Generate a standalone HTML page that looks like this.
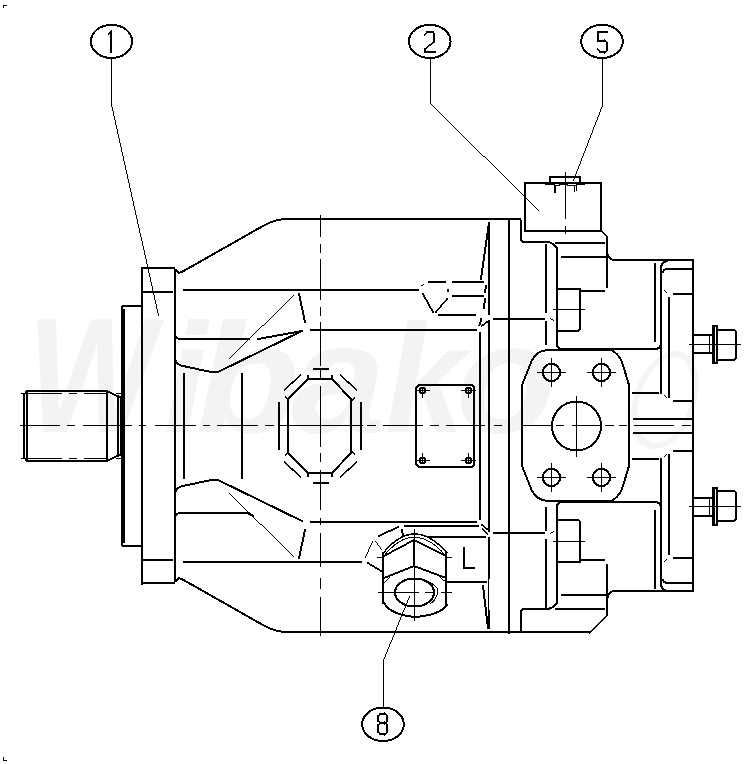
<!DOCTYPE html>
<html><head><meta charset="utf-8"><style>
html,body{margin:0;padding:0;background:#fff;width:745px;height:764px;overflow:hidden}
svg{display:block}
</style></head><body>
<svg width="745" height="764" viewBox="0 0 745 764">
<rect width="745" height="764" fill="#fff"/>
<g font-family="&quot;Liberation Sans&quot;, sans-serif" font-weight="bold" font-style="italic" font-size="155" fill="#f3f3f3"><text transform="translate(27.4 432) scale(0.87 1.06)">W</text><text transform="translate(164 432) scale(1.0 1)">i</text><text transform="translate(195.7 432) scale(1.1 1)">b</text><text transform="translate(291 432) scale(1.1 1)">a</text><text transform="translate(385 432) scale(0.93 1)">k</text><text transform="translate(455.7 432) scale(1.06 1)">o</text></g>
<ellipse cx="0" cy="0" rx="29" ry="46" transform="translate(665 400) skewX(-12)" fill="none" stroke="#f4f4f4" stroke-width="6"/>
<g fill="none" stroke="#000" stroke-linecap="square" shape-rendering="crispEdges">
<g id="sym">
<polyline points="27,391 107,391" stroke-width="2"/>
<polygon points="106,389.5 118,395.5 118,397.5 106,391.5" fill="#000" stroke="none"/>
<polyline points="107,391 107,427" stroke-width="2"/>
<polyline points="118,396 118,427" stroke-width="2"/>
<polyline points="118,397 121,397" stroke-width="2"/>
<polyline points="116.5,393.5 120.5,393.5" stroke-width="1"/>
<polyline points="120.5,396.5 120.5,426.5" stroke-width="1"/>
<polygon points="25.667,391 22.333,396 24.333,396 27.667,391" fill="#000" stroke="none"/>
<polyline points="24,395 24,427" stroke-width="2"/>
<polyline points="27,391 27,427" stroke-width="2"/>
<polyline points="21.5,393.5 61.5,393.5" stroke-width="1"/>
<polyline points="69.5,393.5 76.5,393.5" stroke-width="1"/>
<polyline points="84.5,393.5 107.5,393.5" stroke-width="1"/>
<polyline points="122,307 122,427" stroke-width="2"/>
<polyline points="124,310 124,427" stroke-width="2"/>
<polyline points="123,306 142,306" stroke-width="2"/>
<polyline points="142,268 142,427" stroke-width="2"/>
<polyline points="144,292 172,292" stroke-width="2"/>
<path d="M 175 335 Q 176 339 181 339 L 249 339" stroke-width="2"/>
<path d="M 175 358 Q 176 365 183 366 L 211 372 L 218 372 L 302 331" stroke-width="2"/>
<polygon points="229,358.492 294,294.508 294,295.508 229,359.492" fill="#000" stroke="none"/>
<polygon points="297.786,293 304.214,323 306.214,323 299.786,293" fill="#000" stroke="none"/>
<polyline points="311,330 476,330" stroke-width="2"/>
<polyline points="184,374 184,427" stroke-width="2"/>
<polyline points="242,374 242,427" stroke-width="2"/>
<polyline points="509,219 509,427" stroke-width="2"/>
<polyline points="489,321 489,427" stroke-width="2"/>
<polyline points="480,333 480,427" stroke-width="2"/>
<polyline points="439,315 475,315" stroke-width="2"/>
<polyline points="494,319 544,319" stroke-width="2"/>
<polygon points="550,317.667 554,320.333 554,321.333 550,318.667" fill="#000" stroke="none"/>
<path d="M 419 385 L 472 385 L 474 387 L 474 427" stroke-width="2"/>
<path d="M 419 385 L 416 388 L 416 427" stroke-width="2"/>
<path d="M 308 379 L 332 379 L 351 399 L 351 427" stroke-width="2"/>
<path d="M 308 379 L 288 399 L 288 427" stroke-width="2"/>
<polyline points="279,403 279,427" stroke-width="2"/>
<polyline points="361,403 361,427" stroke-width="2"/>
<polygon points="283.5,389.5 292.5,380.5 292.5,382.5 283.5,391.5" fill="#000" stroke="none"/>
<polygon points="291.5,382.5 300.5,373.5 300.5,375.5 291.5,384.5" fill="#000" stroke="none"/>
<polygon points="339.5,373.5 348.5,382.5 348.5,384.5 339.5,375.5" fill="#000" stroke="none"/>
<polygon points="347.5,380.5 356.5,389.5 356.5,391.5 347.5,382.5" fill="#000" stroke="none"/>
<polyline points="314,369 328,369" stroke-width="2"/>
<polyline points="320.5,370.5 320.5,377.5" stroke-width="1"/>
<polyline points="308,376 308,378" stroke-width="2"/>
<polyline points="332,376 332,378" stroke-width="2"/>
<polygon points="285,396 289,400 289,402 285,398" fill="#000" stroke="none"/>
<polygon points="351,400 355,396 355,398 351,402" fill="#000" stroke="none"/>
<polyline points="546,245 546,312" stroke-width="2"/>
<polyline points="546,322 546,344" stroke-width="2"/>
<polyline points="556,243 604,243" stroke-width="2"/>
<polyline points="562,257 607,257" stroke-width="2"/>
<polyline points="607,251 607,287" stroke-width="2"/>
<polyline points="655,264 655,341" stroke-width="2"/>
<path d="M 661 393 L 661 269 Q 661 262 667 261" stroke-width="2"/>
<path d="M 663 272 Q 664 269 667 269 L 693 269" stroke-width="2"/>
<polyline points="674,294 693,294" stroke-width="2"/>
<polygon points="664,289.5 667,292.5 667,293.5 664,290.5" fill="#000" stroke="none"/>
<polyline points="669,298 669,397" stroke-width="2"/>
<polygon points="664,394.5 667,397.5 667,398.5 664,395.5" fill="#000" stroke="none"/>
<polyline points="674,401 693,401" stroke-width="2"/>
<polyline points="633,393 658,393" stroke-width="2"/>
<polyline points="634,419 693,419" stroke-width="2"/>
</g>
<use href="#sym" transform="matrix(1 0 0 -1 0 852)"/>
<g id="symB">
<polyline points="142,268 174,268" stroke-width="2"/>
<polygon points="172.5,267 174.5,271 176.5,271 174.5,267" fill="#000" stroke="none"/>
<polyline points="175,270 175,427" stroke-width="2"/>
<path d="M 176 270 L 179 273 L 182.7 271.5 L 263.8 225.5 Q 275.3 219 288 219 L 519 219 Q 521 219 521 223 L 521 240 Q 521 242 525 242 L 548 242 Q 553 243 557 248" stroke-width="2"/>
<path d="M 607 251 Q 608 260 615 260 L 693 260 L 693 427" stroke-width="2"/>
<path d="M 522 427 L 522 385 L 532 360 Q 537 351 547 350 L 611 350 Q 618 353 622 362 L 629 385 L 629 427" stroke-width="2"/>
<polyline points="694,335 712,335" stroke-width="2"/>
<polyline points="694,353 712,353" stroke-width="2"/>
<polyline points="709.5,336.5 709.5,352.5" stroke-width="1"/>
<polyline points="713,326 717,326 717,363 713,363 713,326" stroke-width="2"/>
<polyline points="714.5,326.5 714.5,362.5" stroke-width="1"/>
<path d="M 718 330 L 733 330 Q 736 330 736 333 L 736 357 Q 736 360 733 360 L 718 360" stroke-width="2"/>
<polyline points="689.5,344.5 740.5,344.5" stroke-width="1"/>
<path d="M 557 248 L 557 344 Q 557 349 563 349 L 654 349 Q 661 349 661 343" stroke-width="2"/>
<polyline points="581,291 604,291" stroke-width="2"/>
<path d="M 558 289 L 580 289 L 580 328 Q 580 331 577 331 L 558 331" stroke-width="2"/>
<polyline points="553.5,309.5 584.5,309.5" stroke-width="1"/>
</g>
<use href="#symB" transform="matrix(1 0 0 -1 0 851)"/>
<polyline points="525,183 601,183 601,231 525,231 525,183" stroke-width="2"/>
<polyline points="550,184 550,177 580,177 580,184" stroke-width="2"/>
<polyline points="545.5,184.5 554.5,184.5" stroke-width="1"/>
<polyline points="559.5,184.5 567.5,184.5" stroke-width="1"/>
<polyline points="576.5,184.5 584.5,184.5" stroke-width="1"/>
<polyline points="554.5,185.5 559.5,185.5" stroke-width="1"/>
<polyline points="555,186 555,192" stroke-width="2"/>
<polyline points="567.5,185.5 576.5,185.5" stroke-width="1"/>
<polyline points="576.5,185.5 576.5,190.5" stroke-width="1"/>
<polyline points="574.5,185.5 574.5,191.5" stroke-width="1"/>
<polyline points="565.5,172.5 565.5,218.5" stroke-width="1"/>
<polyline points="565.5,226.5 565.5,233.5" stroke-width="1"/>
<polygon points="600,229 608,237 608,239 600,231" fill="#000" stroke="none"/>
<polyline points="607,237 607,251" stroke-width="2"/>
<polygon points="480.808,317.5 478.192,326 480.192,326 482.808,317.5" fill="#000" stroke="none"/>
<polygon points="480.5,325.75 488.5,319.75 488.5,321.75 480.5,327.75" fill="#000" stroke="none"/>
<polyline points="184,290 418,290" stroke-width="2"/>
<polygon points="257,338.182 303,329.818 303,331.818 257,340.182" fill="#000" stroke="none"/>
<polyline points="429,282 445,282" stroke-width="2"/>
<polyline points="453,282 483,282" stroke-width="2"/>
<polygon points="421,285.25 424,283.75 424,284.75 421,286.25" fill="#000" stroke="none"/>
<polygon points="421.444,293 432.556,313 434.556,313 423.444,293" fill="#000" stroke="none"/>
<polygon points="446.846,298 434.154,313 436.154,313 448.846,298" fill="#000" stroke="none"/>
<polyline points="448,290 448,291" stroke-width="2"/>
<polyline points="453,296 483,296" stroke-width="2"/>
<polygon points="485.167,285 483.833,293 485.833,293 487.167,285" fill="#000" stroke="none"/>
<polygon points="484.111,298 482.889,309 484.889,309 486.111,298" fill="#000" stroke="none"/>
<polyline points="489,223 489,314" stroke-width="2"/>
<polygon points="488.143,222 479.857,280 481.857,280 490.143,222" fill="#000" stroke="none"/>
<polyline points="520,632 590,632" stroke-width="2"/>
<polygon points="589,632 608,613 608,615 589,634" fill="#000" stroke="none"/>
<polyline points="607,615 607,601" stroke-width="2"/>
<path d="M 245 513 Q 250 513 253 516" stroke-width="2"/>
<polyline points="405,526 478,526" stroke-width="2"/>
<polyline points="429,537 485,537" stroke-width="2"/>
<polygon points="481,523.2 488,528.8 488,530.8 481,525.2" fill="#000" stroke="none"/>
<polygon points="482,528 488,534 488,536 482,530" fill="#000" stroke="none"/>
<polyline points="489,538 489,578" stroke-width="2"/>
<polyline points="488.5,578.5 488.5,610.5" stroke-width="1"/>
<polyline points="489,611 489,628" stroke-width="2"/>
<polygon points="481.881,585 487.119,629 489.119,629 483.881,585" fill="#000" stroke="none"/>
<polyline points="448,582 486,582" stroke-width="2"/>
<polyline points="184,562 361,562" stroke-width="2"/>
<polyline points="464,548 464,568 474,568" stroke-width="2"/>
<polyline points="20.5,425.5 59.5,425.5" stroke-width="1"/>
<polyline points="67.5,425.5 74.5,425.5" stroke-width="1"/>
<polyline points="83.5,425.5 131.5,425.5" stroke-width="1"/>
<polyline points="139.5,425.5 145.5,425.5" stroke-width="1"/>
<polyline points="155.5,425.5 195.5,425.5" stroke-width="1"/>
<polyline points="203.5,425.5 209.5,425.5" stroke-width="1"/>
<polyline points="217.5,425.5 257.5,425.5" stroke-width="1"/>
<polyline points="265.5,425.5 273.5,425.5" stroke-width="1"/>
<polyline points="278.5,425.5 362.5,425.5" stroke-width="1"/>
<polyline points="367.5,425.5 375.5,425.5" stroke-width="1"/>
<polyline points="383.5,425.5 422.5,425.5" stroke-width="1"/>
<polyline points="430.5,425.5 438.5,425.5" stroke-width="1"/>
<polyline points="446.5,425.5 484.5,425.5" stroke-width="1"/>
<polyline points="494.5,425.5 501.5,425.5" stroke-width="1"/>
<polyline points="521.5,425.5 550.5,425.5" stroke-width="1"/>
<polyline points="556.5,425.5 563.5,425.5" stroke-width="1"/>
<polyline points="572.5,425.5 599.5,425.5" stroke-width="1"/>
<polyline points="605.5,425.5 613.5,425.5" stroke-width="1"/>
<polyline points="619.5,425.5 626.5,425.5" stroke-width="1"/>
<polyline points="634.5,425.5 673.5,425.5" stroke-width="1"/>
<polyline points="682.5,425.5 690.5,425.5" stroke-width="1"/>
<polyline points="320.5,215.5 320.5,236.5" stroke-width="1"/>
<polyline points="320.5,244.5 320.5,252.5" stroke-width="1"/>
<polyline points="320.5,259.5 320.5,299.5" stroke-width="1"/>
<polyline points="320.5,307.5 320.5,315.5" stroke-width="1"/>
<polyline points="320.5,322.5 320.5,365.5" stroke-width="1"/>
<polyline points="320.5,386.5 320.5,446.5" stroke-width="1"/>
<polyline points="320.5,453.5 320.5,461.5" stroke-width="1"/>
<polyline points="320.5,470.5 320.5,481.5" stroke-width="1"/>
<polyline points="320.5,484.5 320.5,509.5" stroke-width="1"/>
<polyline points="320.5,518.5 320.5,524.5" stroke-width="1"/>
<polyline points="320.5,533.5 320.5,566.5" stroke-width="1"/>
<polyline points="320.5,578.5 320.5,588.5" stroke-width="1"/>
<polyline points="320.5,597.5 320.5,635.5" stroke-width="1"/>
<ellipse cx="551.5" cy="372.5" rx="8.6" ry="8.6" stroke-width="2"/>
<polyline points="537.5,372.5 565.5,372.5" stroke-width="1"/>
<polyline points="551.5,358.5 551.5,386.5" stroke-width="1"/>
<ellipse cx="601.5" cy="372.5" rx="8.6" ry="8.6" stroke-width="2"/>
<polyline points="587.5,372.5 615.5,372.5" stroke-width="1"/>
<polyline points="601.5,358.5 601.5,386.5" stroke-width="1"/>
<ellipse cx="551.5" cy="477.5" rx="8.6" ry="8.6" stroke-width="2"/>
<polyline points="537.5,477.5 565.5,477.5" stroke-width="1"/>
<polyline points="551.5,463.5 551.5,491.5" stroke-width="1"/>
<ellipse cx="601.5" cy="477.5" rx="8.6" ry="8.6" stroke-width="2"/>
<polyline points="587.5,477.5 615.5,477.5" stroke-width="1"/>
<polyline points="601.5,463.5 601.5,491.5" stroke-width="1"/>
<ellipse cx="576.5" cy="426" rx="24.5" ry="24.5" stroke-width="2"/>
<polyline points="576.5,396.5 576.5,456.5" stroke-width="1"/>
<ellipse cx="422.5" cy="390.5" rx="3" ry="3" stroke-width="1.5"/>
<ellipse cx="468.5" cy="390.5" rx="3" ry="3" stroke-width="1.5"/>
<ellipse cx="422.5" cy="460.5" rx="3" ry="3" stroke-width="1.5"/>
<ellipse cx="468.5" cy="460.5" rx="3" ry="3" stroke-width="1.5"/>
<polyline points="417.5,390.5 429.5,390.5" stroke-width="1"/>
<polyline points="422.5,387.5 422.5,397.5" stroke-width="1"/>
<polyline points="461.5,390.5 475.5,390.5" stroke-width="1"/>
<polyline points="468.5,387.5 468.5,397.5" stroke-width="1"/>
<polyline points="417.5,460.5 429.5,460.5" stroke-width="1"/>
<polyline points="422.5,453.5 422.5,463.5" stroke-width="1"/>
<polyline points="461.5,460.5 475.5,460.5" stroke-width="1"/>
<polyline points="468.5,453.5 468.5,463.5" stroke-width="1"/>
<polyline points="383,553 383,603" stroke-width="2"/>
<polyline points="446,552 446,605" stroke-width="2"/>
<path d="M 382.75 553.75 Q 413.75 514.75 446.75 552.75" stroke-width="1.5"/>
<path d="M 383.5 556.5 Q 413.5 518.5 445.5 555.5" stroke-width="1"/>
<polygon points="383,555.533 415,538.467 415,540.467 383,557.533" fill="#000" stroke="none"/>
<polygon points="413,538.5 447,555.5 447,557.5 413,540.5" fill="#000" stroke="none"/>
<polyline points="414,541 414,566" stroke-width="2"/>
<polygon points="383,577.4 415,564.6 415,566.6 383,579.4" fill="#000" stroke="none"/>
<polygon points="413,564.625 447,577.375 447,579.375 413,566.625" fill="#000" stroke="none"/>
<polygon points="384,582.5 390,576.5 390,577.5 384,583.5" fill="#000" stroke="none"/>
<polygon points="440,576.583 447,582.417 447,583.417 440,577.583" fill="#000" stroke="none"/>
<path d="M 384 603 Q 391 615 415 617 Q 440 615 447 605" stroke-width="2"/>
<ellipse cx="414.5" cy="592.5" rx="19.5" ry="14" stroke-width="2"/>
<path d="M 422.5 579.5 Q 440.5 585.5 437.5 593.5 Q 435.5 600.5 430.5 603.5" stroke-width="1"/>
<polyline points="378.5,592.5 418.5,592.5" stroke-width="1"/>
<polyline points="425.5,592.5 433.5,592.5" stroke-width="1"/>
<polyline points="441.5,592.5 451.5,592.5" stroke-width="1"/>
<polyline points="414.5,529.5 414.5,620.5" stroke-width="1"/>
<polyline points="377.5,557.5 382.5,557.5" stroke-width="1"/>
<polyline points="447.5,557.5 451.5,557.5" stroke-width="1"/>
<polygon points="378,535.474 399,525.526 399,527.526 378,537.474" fill="#000" stroke="none"/>
<polygon points="400.833,529 402.167,537 404.167,537 402.833,529" fill="#000" stroke="none"/>
<polygon points="372.219,541 364.781,558 365.781,558 373.219,541" fill="#000" stroke="none"/>
<polygon points="374.625,541 381.375,550 382.375,550 375.625,541" fill="#000" stroke="none"/>
<polygon points="367,561.385 382,570.615 382,572.615 367,563.385" fill="#000" stroke="none"/>
<polyline points="383.5,707.5 383.5,660.5" stroke-width="1"/>
<polygon points="409.203,596 382.797,661 383.797,661 410.203,596" fill="#000" stroke="none"/>
<ellipse cx="111.5" cy="41.4" rx="20.6" ry="16.6" stroke-width="2"/>
<ellipse cx="429.75" cy="41.4" rx="20.8" ry="16.6" stroke-width="2"/>
<ellipse cx="602" cy="41.4" rx="20.8" ry="16.6" stroke-width="2"/>
<ellipse cx="383" cy="724.3" rx="20.8" ry="16.8" stroke-width="2"/>
<polyline points="111.5,58.5 111.5,104.5" stroke-width="1"/>
<polygon points="110.889,104 158.111,316 159.111,316 111.889,104" fill="#000" stroke="none"/>
<polyline points="430.5,58.5 430.5,103.5" stroke-width="1"/>
<polygon points="430,102.505 539,210.495 539,211.495 430,103.505" fill="#000" stroke="none"/>
<polyline points="602.5,58.5 602.5,105.5" stroke-width="1"/>
<polygon points="602.193,105 572.807,181 573.807,181 603.193,105" fill="#000" stroke="none"/>
<g stroke-linejoin="round" stroke-linecap="round">
<polygon points="108,33.8 111.6,30.2 111.6,31.8 108,35.4" fill="#000" stroke="none"/>
<polyline points="111,32 111,52" stroke-width="2"/>
<polygon points="424,34 428,30 428,32 424,36" fill="#000" stroke="none"/>
<polyline points="427,32 433,32" stroke-width="2"/>
<polygon points="431.5,31 433.5,35 435.5,35 433.5,31" fill="#000" stroke="none"/>
<polyline points="434,34 434,42" stroke-width="2"/>
<polygon points="424,48.778 435,40.222 435,42.222 424,50.778" fill="#000" stroke="none"/>
<polyline points="425,49 425,52" stroke-width="2"/>
<polyline points="425,52 435,52" stroke-width="2"/>
<polyline points="607,32 598,32" stroke-width="2"/>
<polyline points="598,32 598,41" stroke-width="2"/>
<polyline points="598,41 605,41" stroke-width="2"/>
<polygon points="604,39 608,43 608,45 604,41" fill="#000" stroke="none"/>
<polyline points="607,43 607,50" stroke-width="2"/>
<polygon points="604,52 608,48 608,50 604,54" fill="#000" stroke="none"/>
<polyline points="605,52 600,52" stroke-width="2"/>
<polygon points="597,48 601,52 601,54 597,50" fill="#000" stroke="none"/>
<polyline points="380,714 385,714" stroke-width="2"/>
<polygon points="384,712 388,716 388,718 384,714" fill="#000" stroke="none"/>
<polyline points="387,716 387,721" stroke-width="2"/>
<polygon points="384,723 388,719 388,721 384,725" fill="#000" stroke="none"/>
<polyline points="385,723 380,723" stroke-width="2"/>
<polygon points="377,719 381,723 381,725 377,721" fill="#000" stroke="none"/>
<polyline points="378,721 378,716" stroke-width="2"/>
<polygon points="377,716 381,712 381,714 377,718" fill="#000" stroke="none"/>
<polyline points="380,723 385,723" stroke-width="2"/>
<polygon points="384,721 388,725 388,727 384,723" fill="#000" stroke="none"/>
<polyline points="387,725 387,732" stroke-width="2"/>
<polygon points="384,734 388,730 388,732 384,736" fill="#000" stroke="none"/>
<polyline points="385,734 380,734" stroke-width="2"/>
<polygon points="377,730 381,734 381,736 377,732" fill="#000" stroke="none"/>
<polyline points="378,732 378,725" stroke-width="2"/>
<polygon points="377,725 381,721 381,723 377,727" fill="#000" stroke="none"/>
</g>
<polyline points="6.5,5.5 3.5,5.5 3.5,7.5" stroke-width="1"/>
<polyline points="3.5,757.5 3.5,760.5 6.5,760.5" stroke-width="1"/>
</g>
</svg>
</body></html>
